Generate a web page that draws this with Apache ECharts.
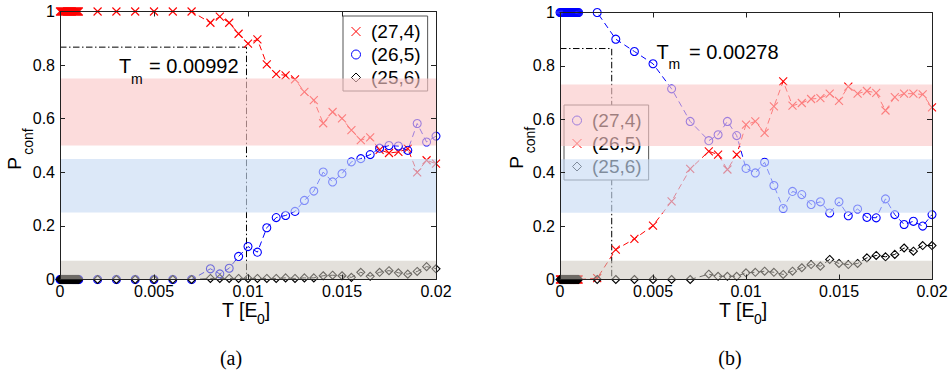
<!DOCTYPE html>
<html>
<head>
<meta charset="utf-8">
<script src="https://cdn.jsdelivr.net/npm/echarts/dist/echarts.min.js"></script>
<style>
  html, body { margin: 0; padding: 0; background: #fff; }
  #chart { width: 948px; height: 371px; }
</style>
</head>
<body>
<div id="chart"></div>
<script>
// Temperature grid shared by both panels (units of E0); finely sampled near T = 0
const temps = [
  0, 0.00005, 0.0001, 0.00015, 0.0002, 0.00025, 0.0003, 0.00035, 0.0004, 0.00045, 0.0005,
  0.00055, 0.0006, 0.00065, 0.0007, 0.00075, 0.0008, 0.00085, 0.0009, 0.00095, 0.001,
  0.002, 0.003, 0.004, 0.005, 0.006, 0.007,
  0.008, 0.0085, 0.009, 0.0095, 0.01, 0.0105, 0.011, 0.0115, 0.012, 0.0125, 0.013,
  0.0135, 0.014, 0.0145, 0.015, 0.0155, 0.016, 0.0165, 0.017, 0.0175, 0.018,
  0.0185, 0.019, 0.0195, 0.02
];

// Panel (a): configuration probabilities
const a_27_4 = [
  1, 1, 1, 1, 1, 1, 1, 1, 1, 1, 1, 1, 1, 1, 1, 1, 1, 1, 1, 1, 1,
  1, 1, 1, 1, 1, 1,
  0.958, 0.981, 0.958, 0.917, 0.880, 0.896, 0.803, 0.766, 0.762, 0.747, 0.700,
  0.669, 0.583, 0.625, 0.601, 0.557, 0.520, 0.530, 0.484, 0.472, 0.476,
  0.488, 0.400, 0.445, 0.432
];
const a_26_5 = [
  0, 0, 0, 0, 0, 0, 0, 0, 0, 0, 0, 0, 0, 0, 0, 0, 0, 0, 0, 0, 0,
  0, 0, 0, 0, 0, 0,
  0.040, 0.021, 0.042, 0.086, 0.123, 0.102, 0.193, 0.231, 0.239, 0.254, 0.295,
  0.330, 0.401, 0.364, 0.395, 0.439, 0.451, 0.466, 0.490, 0.500, 0.498,
  0.482, 0.582, 0.513, 0.535
];
const a_25_6 = [
  0, 0, 0, 0, 0, 0, 0, 0, 0, 0, 0, 0, 0, 0, 0, 0, 0, 0, 0, 0, 0,
  0, 0, 0, 0, 0, 0,
  0.004, 0.004, 0.004, 0.004, 0.004, 0.004, 0.004, 0.004, 0.006, 0.004, 0.006,
  0.006, 0.014, 0.016, 0.014, 0.008, 0.027, 0.012, 0.027, 0.033, 0.025,
  0.020, 0.030, 0.048, 0.040
];

// Panel (b): configuration probabilities
const b_27_4 = [
  1, 1, 1, 1, 1, 1, 1, 1, 1, 1, 1, 1, 1, 1, 1, 1, 1, 1, 1, 1, 1,
  1.0, 0.900, 0.854, 0.808, 0.714, 0.592,
  0.520, 0.542, 0.592, 0.539, 0.416, 0.399, 0.439, 0.352, 0.266, 0.330, 0.318,
  0.281, 0.291, 0.249, 0.291, 0.239, 0.264, 0.233, 0.231, 0.302, 0.243,
  0.206, 0.218, 0.200, 0.243
];
const b_26_5 = [
  0, 0, 0, 0, 0, 0, 0, 0, 0, 0, 0, 0, 0, 0, 0, 0, 0, 0, 0, 0, 0,
  0.005, 0.112, 0.152, 0.202, 0.293, 0.414,
  0.480, 0.468, 0.412, 0.468, 0.580, 0.592, 0.549, 0.648, 0.742, 0.651, 0.661,
  0.676, 0.679, 0.696, 0.669, 0.722, 0.696, 0.706, 0.699, 0.633, 0.683,
  0.696, 0.696, 0.693, 0.645
];
const b_25_6 = [
  0, 0, 0, 0, 0, 0, 0, 0, 0, 0, 0, 0, 0, 0, 0, 0, 0, 0, 0, 0, 0,
  0, 0, 0, 0, 0, 0,
  0.020, 0.012, 0.012, 0.012, 0.025, 0.027, 0.031, 0.027, 0.019, 0.031, 0.044,
  0.056, 0.050, 0.075, 0.060, 0.056, 0.060, 0.081, 0.090, 0.085, 0.094,
  0.118, 0.106, 0.127, 0.127
];

// Probability bands [low, high]
const bandsA = [[0.5, 0.75], [0.25, 0.45], [0, 0.07]];
const bandsB = [[0.5, 0.73], [0.25, 0.45], [0, 0.07]];

// Melting temperature markers: [T_m, P level]
const tmA = [0.00992, 0.867];
const tmB = [0.00278, 0.865];

// Axis ticks
const xRange = [0, 0.02];
const xTickLabels = ['0', '0.005', '0.01', '0.015', '0.02'];
const yTickLabels = ['0', '0.2', '0.4', '0.6', '0.8', '1'];

const FONT = 'Liberation Sans, Arial, Helvetica, sans-serif';
const SERIF = 'Liberation Serif, DejaVu Serif, serif';
const CROSS = 'path://M0,0L10,10M10,0L0,10';
const CIRCLE_P = 'path://M5,0A5,5,0,1,1,5,10A5,5,0,1,1,5,0Z';
const DIAMOND_P = 'path://M5,0L10,5L5,10L0,5Z';
const bandColors = ['rgba(250,199,199,0.63)', 'rgba(200,219,244,0.64)', 'rgba(204,198,189,0.54)'];

const chart = echarts.init(document.getElementById('chart'), null, { renderer: 'svg' });

function xAxisDef(gridIndex, position, labels) {
  return {
    type: 'value', gridIndex, position, min: xRange[0], max: xRange[1], interval: 0.005, z: 10,
    axisLine: { show: true, onZero: false, lineStyle: { color: '#222', width: 1 } },
    axisTick: { show: true, inside: true, length: 5, lineStyle: { color: '#222' } },
    axisLabel: labels ? {
      show: true, margin: 4, fontSize: 16, fontFamily: FONT, color: '#000',
      formatter: v => xTickLabels[Math.round(v / 0.005)]
    } : { show: false },
    splitLine: { show: false }
  };
}
function yAxisDef(gridIndex, position, labels) {
  return {
    type: 'value', gridIndex, position, min: 0, max: 1, interval: 0.2, z: 10,
    axisLine: { show: true, onZero: false, lineStyle: { color: '#222', width: 1 } },
    axisTick: { show: true, inside: true, length: 5, lineStyle: { color: '#222' } },
    axisLabel: labels ? {
      show: true, margin: 5, fontSize: 16, fontFamily: FONT, color: '#000',
      formatter: v => yTickLabels[Math.round(v / 0.2)]
    } : { show: false },
    splitLine: { show: false }
  };
}

function dataSeries(name, values, axis, symbol, color, size) {
  return {
    type: 'line', name, xAxisIndex: axis, yAxisIndex: axis,
    data: temps.map((t, i) => [t, values[i]]),
    symbol, symbolSize: size, showSymbol: true, clip: false, z: 2,
    itemStyle: { color: 'transparent', borderColor: color, borderWidth: 1.1 },
    lineStyle: { color, width: 1, type: [6, 4] },
    emphasis: { disabled: true }, animation: false
  };
}
function tmSeries(tm, axis) {
  return {
    type: 'line', xAxisIndex: axis, yAxisIndex: axis, symbol: 'none', z: 2, clip: false,
    data: [[xRange[0], tm[1]], [tm[0], tm[1]], [tm[0], 0]],
    lineStyle: { color: '#000', width: 1, type: [6.5, 2.5, 1.5, 2.5] },
    emphasis: { disabled: true }, animation: false, silent: true
  };
}
function bandSeries(bands, axis) {
  return {
    type: 'custom', xAxisIndex: axis, yAxisIndex: axis, z: 6, silent: true, animation: false,
    data: bands,
    encode: { x: -1, y: [0, 1] },
    renderItem: (params, api) => {
      const lo = api.value(0), hi = api.value(1);
      const p1 = api.coord([xRange[0], hi]);
      const p2 = api.coord([xRange[1], lo]);
      return {
        type: 'rect',
        shape: { x: p1[0], y: p1[1], width: p2[0] - p1[0], height: p2[1] - p1[1] },
        style: { fill: bandColors[params.dataIndex] }
      };
    }
  };
}
function legendDef(items, left, top) {
  return {
    orient: 'vertical', left, top, selectedMode: false,
    itemWidth: 20, itemHeight: 9, itemGap: 4,
    padding: [6, 7, 4, 8],
    backgroundColor: '#fff', borderColor: '#555', borderWidth: 1, borderRadius: 0,
    textStyle: { fontSize: 19, fontFamily: FONT, color: '#000', lineHeight: 19 },
    formatter: n => n.slice(2),
    data: items.map(it => ({
      name: it[0], icon: it[1],
      itemStyle: { color: 'transparent', borderColor: it[2], borderWidth: 1 }
    }))
  };
}

function txt(text, x, y, size, family, align) {
  return {
    type: 'text', x, y, z: 20, silent: true,
    style: { text, fontSize: size, fontFamily: family || FONT, fill: '#000', align: align || 'left', verticalAlign: 'middle' }
  };
}
function rtxt(text, x, y, size) {
  return {
    type: 'text', x, y, z: 20, silent: true, rotation: Math.PI / 2,
    style: { text, fontSize: size, fontFamily: FONT, fill: '#000', align: 'center', verticalAlign: 'middle' }
  };
}

const option = {
  animation: false,
  backgroundColor: '#fff',
  grid: [
    { left: 60, top: 11.5, width: 376, height: 268, outerBoundsMode: 'none', containLabel: false },
    { left: 560, top: 12.5, width: 372, height: 267, outerBoundsMode: 'none', containLabel: false }
  ],
  xAxis: [
    xAxisDef(0, 'bottom', true), xAxisDef(0, 'top', false),
    xAxisDef(1, 'bottom', true), xAxisDef(1, 'top', false)
  ],
  yAxis: [
    yAxisDef(0, 'left', true), yAxisDef(0, 'right', false),
    yAxisDef(1, 'left', true), yAxisDef(1, 'right', false)
  ],
  legend: [
    legendDef([['a (27,4)', CROSS, '#f00'], ['a (26,5)', CIRCLE_P, '#00f'], ['a (25,6)', DIAMOND_P, '#000']], 343, 16),
    legendDef([['b (27,4)', CIRCLE_P, '#00f'], ['b (26,5)', CROSS, '#f00'], ['b (25,6)', DIAMOND_P, '#000']], 564, 105)
  ],
  series: [
    tmSeries(tmA, 0),
    dataSeries('a (27,4)', a_27_4, 0, CROSS, '#f00', 8),
    dataSeries('a (26,5)', a_26_5, 0, 'circle', '#00f', 8),
    dataSeries('a (25,6)', a_25_6, 0, 'diamond', '#000', 8),
    bandSeries(bandsA, 0),

    tmSeries(tmB, 2),
    dataSeries('b (27,4)', b_27_4, 2, 'circle', '#00f', 8),
    dataSeries('b (26,5)', b_26_5, 2, CROSS, '#f00', 8),
    dataSeries('b (25,6)', b_25_6, 2, 'diamond', '#000', 8),
    bandSeries(bandsB, 2)
  ],
  graphic: [
    // T_m annotations
    txt('T', 119, 66.4, 20), txt('m', 131, 78.5, 14), txt('= ' + tmA[0], 149, 66.4, 20),
    txt('T', 656.5, 52.4, 20), txt('m', 668.5, 63.5, 14), txt('= ' + tmB[0], 689, 52.4, 20),
    // y-axis titles
    rtxt('P', 14.4, 163.5, 19), rtxt('conf', 28.2, 141.5, 14),
    rtxt('P', 516.4, 162.5, 19), rtxt('conf', 530.2, 140, 14),
    // x-axis titles
    txt('T [E', 222, 310, 19.5), txt('0', 257, 318.9, 14), txt(']', 264.8, 310, 19.5),
    txt('T [E', 719, 310, 19.5), txt('0', 754, 318.9, 14), txt(']', 761.8, 310, 19.5),
    // panel captions
    txt('(a)', 231, 358, 20, SERIF, 'center'),
    txt('(b)', 730, 358, 20, SERIF, 'center')
  ]
};

chart.setOption(option);
</script>
</body>
</html>
